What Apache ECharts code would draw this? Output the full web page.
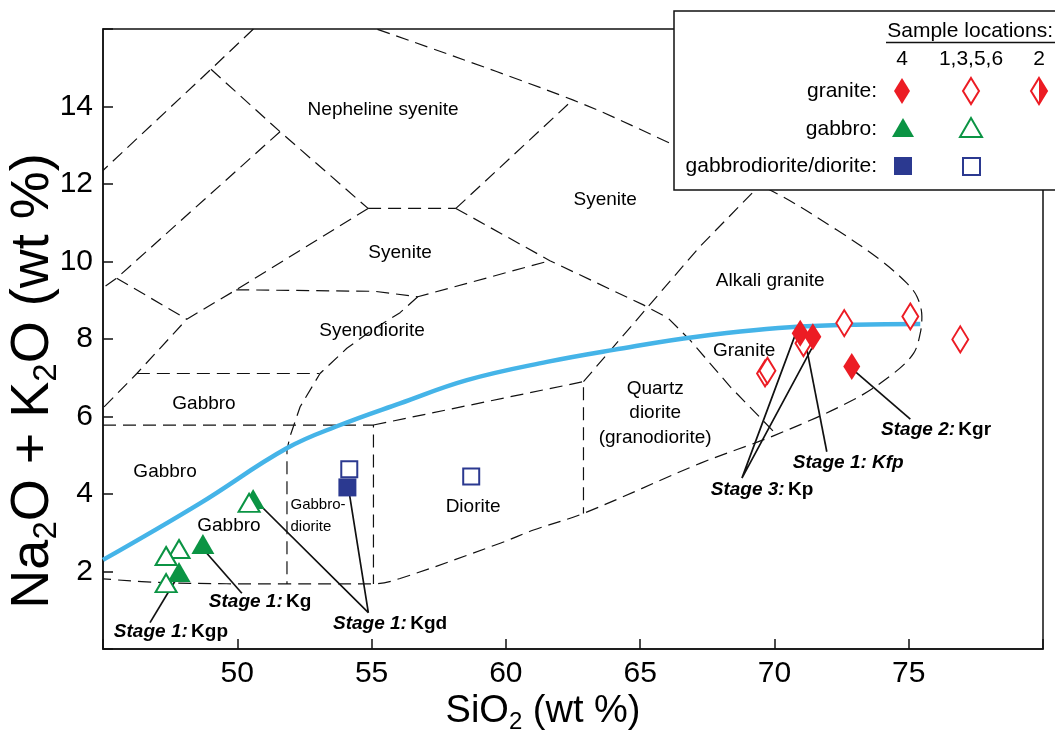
<!DOCTYPE html>
<html><head><meta charset="utf-8">
<script src="https://cdn.jsdelivr.net/npm/echarts/dist/echarts.min.js"></script>
<style>html,body{margin:0;padding:0;background:#fff}#c{width:1055px;height:731px}</style>
</head><body><div id="c"></div>
<script>
// ---------- axes ----------
const xMin = 45, xMax = 80, xStep = 5;
const yMin = 0, yMax = 16, yStep = 2;

// ---------- field boundaries (SiO2 wt%, Na2O+K2O wt%) ----------
const bOuter = [[55.22,15.99],[62.49,14.17],[66.12,13.05],[69.96,11.80],[72.33,10.81],[73.94,10.04],[74.93,9.44],[75.31,9.09],[75.49,8.58],[75.43,8.15],[75.18,7.63],[74.43,7.11],[72.94,6.43],[70.03,5.52],[67.23,4.79],[62.89,3.50],[61.03,3.07],[59.79,2.73],[56.06,1.82],[55.07,1.68],[51.84,1.68],[47.37,1.71],[45,1.81]];
const bLineA = [[50.60,16.0],[49.02,14.96],[45,12.35]];
const bV1V2 = [[49.02,14.96],[51.59,13.35],[54.87,11.37]];
const bLineB = [[51.59,13.35],[45.51,9.57],[45,9.32]];
const bV3V4 = [[45.51,9.57],[48.12,8.51]];
const bV2Left = [[54.87,11.37],[49.96,9.27],[48.12,8.51],[46.26,7.11],[45,6.22]];
const bV2V6 = [[54.87,11.37],[58.14,11.37]];
const bV6V7 = [[58.14,11.37],[62.49,14.17]];
const bV6Down = [[58.14,11.37],[61.64,10.02],[65.12,8.88],[66.04,8.54],[66.86,7.97],[68.35,6.77],[70.03,5.57]];
const bV5V8 = [[49.96,9.27],[55.13,9.23],[56.72,9.09],[61.64,10.02]];
const bSyenodiorite = [[56.72,9.09],[56.06,8.68],[55.02,8.23],[54.08,7.76],[53.08,7.11],[52.34,6.25],[51.96,5.48],[51.85,5.14],[51.85,1.68]];
const bGabbroTop = [[46.26,7.11],[53.05,7.11]];
const bGabbroMid = [[45,5.78],[55.07,5.78],[55.07,1.68]];
const bDiorite = [[55.07,5.78],[62.89,6.90],[62.89,3.50]];
const bQuartz = [[62.89,6.90],[67.23,10.39],[69.22,11.80],[69.45,11.97]];

// ---------- alkaline / subalkaline divide ----------
const divideCurve = [[45,2.30],[48.61,3.76],[51.84,5.18],[53.83,5.78],[56.06,6.34],[58.55,6.94],[61.53,7.41],[64.01,7.72],[67.11,8.06],[70.97,8.32],[75.43,8.39]];

// ---------- samples ----------
const graniteLoc4 = [[70.96,8.15],[71.43,8.06],[72.88,7.29]];
const graniteOther = [[71.08,7.89],[72.60,8.41],[75.06,8.58],[69.65,7.11],[69.74,7.18],[76.92,7.99]];
const gabbroLoc4 = [[50.59,3.87],[48.72,2.71],[47.83,1.99]];
const gabbroOther = [[50.44,3.77],[47.83,2.58],[47.35,2.40],[47.35,1.70]];
const dioriteLoc4 = [[54.10,4.17]];
const dioriteOther = [[54.17,4.64],[58.71,4.45]];

// ---------- field names ----------
const fieldLabels = [
  ['Nepheline syenite',55.43,13.91],
  ['Syenite',63.70,11.59],
  ['Syenite',56.06,10.22],
  ['Syenodiorite',55.02,8.21],
  ['Alkali granite',69.84,9.50],
  ['Granite',68.87,7.69],
  ['Gabbro',48.76,6.32],
  ['Gabbro',47.31,4.57],
  ['Gabbro',49.69,3.17],
  ['Diorite',58.78,3.66],
  ['Quartz\ndiorite\n(granodiorite)',65.56,6.09]
];
const smallFieldLabels = [['Gabbro-\ndiorite',51.98,3.43]];

// ---------- unit annotations ----------
const stageLabels = [
  ['{i|Stage 1:} {b|Kgp}',47.53,0.44],
  ['{i|Stage 1:} {b|Kg}',50.85,1.22],
  ['{i|Stage 1:} {b|Kgd}',55.69,0.66],
  ['{i|Stage 2:} {b|Kgr}',76.02,5.65],
  ['{i|Stage 1: Kfp}',72.75,4.81],
  ['{i|Stage 3:} {b|Kp}',69.54,4.10]
];
const leaders = [
  [[46.75,0.68],[47.74,1.82]],
  [[50.17,1.44],[48.84,2.49]],
  [[50.72,3.80],[54.88,0.94],[54.17,4.02]],
  [[75.06,5.93],[73.01,7.16]],
  [[71.95,5.09],[71.20,7.76]],
  [[70.77,8.10],[68.79,4.41],[71.39,7.76]]
];

const FONT = '"Liberation Sans", Arial, Helvetica, sans-serif';
const RED = '#ec1c24', GREEN = '#0b9444', NAVY = '#2b3990', BLUE = '#45b4e8', INK = '#111';

const dashed = {color: INK, width: 1.2, type: [13, 7]};
function bLine(pts, smooth) {
  return {type:'line', data: pts, symbol:'none', smooth: smooth || false, lineStyle: dashed, silent:true, z:2};
}
const boundaries = [bLineA, bV1V2, bLineB, bV3V4, bV2Left, bV2V6, bV6V7, bV6Down, bV5V8, bSyenodiorite, bGabbroTop, bGabbroMid, bDiorite, bQuartz];

const series = [];
series.push(bLine(bOuter, 0.35));
boundaries.forEach(b => series.push(bLine(b, false)));
series.push({type:'line', data: divideCurve, symbol:'none', smooth:0.4, lineStyle:{color:BLUE, width:4.5}, silent:true, z:3});
leaders.forEach(l => series.push({type:'line', data:l, symbol:'none', lineStyle:{color:INK, width:1.7}, silent:true, z:4}));

function marker(data, symbol, size, style, z) {
  return {type:'scatter', data:data, symbol:symbol, symbolSize:size, itemStyle:Object.assign({opacity:1}, style), silent:true, z:z};
}
series.push(marker(graniteOther, 'diamond', [16,26], {color:'#fff', borderColor:RED, borderWidth:2}, 5));
series.push(marker(graniteLoc4, 'diamond', [17,27], {color:RED}, 6));
series.push(marker(gabbroLoc4, 'triangle', [23,20], {color:GREEN}, 5));
series.push(marker(gabbroOther, 'triangle', [21,18], {color:'#fff', borderColor:GREEN, borderWidth:2}, 6));
series.push(marker(dioriteOther, 'rect', [16,16], {color:'#fff', borderColor:NAVY, borderWidth:2}, 5));
series.push(marker(dioriteLoc4, 'rect', [18,18], {color:NAVY}, 6));

function labelSeries(list, label) {
  return {type:'scatter', symbolSize:0, silent:true, z:8, itemStyle:{opacity:1},
    data: list.map(f => ({value:[f[1], f[2]], name:f[0]})),
    label:Object.assign({show:true, formatter:p => p.name, color:'#000', opacity:1}, label)};
}
series.push(labelSeries(fieldLabels, {position:'inside', fontSize:19, fontFamily:FONT, lineHeight:24.5, align:'center'}));
series.push(labelSeries(smallFieldLabels, {position:'right', distance:0, fontSize:15, fontFamily:FONT, lineHeight:22, align:'left'}));
series.push(labelSeries(stageLabels, {position:'inside',
  rich:{
    i:{fontSize:19, fontFamily:FONT, fontWeight:'bold', fontStyle:'italic', color:'#000'},
    b:{fontSize:19, fontFamily:FONT, fontWeight:'bold', color:'#000'}
  }}));

// ---------- legend (drawn as a boxed table) ----------
const legendRows = ['granite:', 'gabbro:', 'gabbrodiorite/diorite:'];
const legendCols = ['4', '1,3,5,6', '2'];
const LF = '21px ' + FONT;
const rowY = [91, 129, 166];
const colX = [902, 971, 1039];
const g = [];
g.push({type:'rect', shape:{x:674, y:11, width:420, height:179}, style:{fill:'#fff', stroke:INK, lineWidth:1.5}, z:100});
g.push({type:'text', x:1053, y:31, style:{text:'Sample locations:', font:LF, fill:'#000', align:'right', verticalAlign:'middle'}, z:101});
g.push({type:'line', shape:{x1:886, y1:42.5, x2:1055, y2:42.5}, style:{stroke:INK, lineWidth:1.5}, z:101});
legendCols.forEach((c, i) => g.push({type:'text', x:colX[i], y:59, style:{text:c, font:LF, fill:'#000', align:'center', verticalAlign:'middle'}, z:101}));
legendRows.forEach((r, i) => g.push({type:'text', x:877, y:rowY[i], style:{text:r, font:LF, fill:'#000', align:'right', verticalAlign:'middle'}, z:101}));
function dia(cx, cy) { return [[cx, cy-13], [cx+8, cy], [cx, cy+13], [cx-8, cy]]; }
function tri(cx, cy) { return [[cx, cy-10], [cx+11, cy+9], [cx-11, cy+9]]; }
g.push({type:'polygon', shape:{points:dia(colX[0], rowY[0])}, style:{fill:RED}, z:101});
g.push({type:'polygon', shape:{points:dia(colX[1], rowY[0])}, style:{fill:'#fff', stroke:RED, lineWidth:2}, z:101});
g.push({type:'polygon', shape:{points:dia(colX[2], rowY[0])}, style:{fill:'#fff', stroke:RED, lineWidth:2}, z:101});
g.push({type:'polygon', shape:{points:[[colX[2], rowY[0]-13], [colX[2]+8, rowY[0]], [colX[2], rowY[0]+13]]}, style:{fill:RED}, z:102});
g.push({type:'polygon', shape:{points:tri(colX[0]+1, rowY[1]-1)}, style:{fill:GREEN}, z:101});
g.push({type:'polygon', shape:{points:tri(colX[1], rowY[1]-1)}, style:{fill:'#fff', stroke:GREEN, lineWidth:2}, z:101});
g.push({type:'rect', shape:{x:colX[0]-8, y:rowY[2]-9, width:18, height:18}, style:{fill:NAVY}, z:101});
g.push({type:'rect', shape:{x:colX[1]-8, y:rowY[2]-8, width:17, height:17}, style:{fill:'#fff', stroke:NAVY, lineWidth:2}, z:101});

// axis titles
g.push({type:'text', x:543, y:712, z:90, style:{text:'{a|SiO}{s|2}{a| (wt %)}', align:'center', verticalAlign:'middle',
  rich:{a:{font:'38px ' + FONT, fill:'#000', lineHeight:44}, s:{font:'24px ' + FONT, fill:'#000', lineHeight:20, verticalAlign:'bottom'}}}});
g.push({type:'text', x:33, y:381, rotation:Math.PI/2, z:90, style:{text:'{a|Na}{s|2}{a|O + K}{s|2}{a|O (wt %)}', align:'center', verticalAlign:'middle',
  rich:{a:{font:'54px ' + FONT, fill:'#000', lineHeight:60}, s:{font:'33px ' + FONT, fill:'#000', lineHeight:26, verticalAlign:'bottom'}}}});

const chart = echarts.init(document.getElementById('c'));
chart.setOption({
  animation:false,
  backgroundColor:'#fff',
  grid:{left:103, top:29, right:12, bottom:82, show:true, borderColor:INK, borderWidth:1.5, backgroundColor:'transparent'},
  xAxis:{type:'value', min:xMin, max:xMax, interval:xStep,
    axisLine:{show:true, lineStyle:{color:INK, width:1.5}},
    axisTick:{show:true, inside:true, length:10, lineStyle:{color:INK, width:1.5}},
    splitLine:{show:false},
    axisLabel:{fontSize:30, fontFamily:FONT, color:'#000', margin:10, formatter:v => (v === xMin || v === xMax) ? '' : String(v)}},
  yAxis:{type:'value', min:yMin, max:yMax, interval:yStep,
    axisLine:{show:true, lineStyle:{color:INK, width:1.5}},
    axisTick:{show:true, inside:true, length:10, lineStyle:{color:INK, width:1.5}},
    splitLine:{show:false},
    axisLabel:{fontSize:30, fontFamily:FONT, color:'#000', margin:10, formatter:v => (v === yMin || v === yMax) ? '' : String(v)}},
  series: series,
  graphic: g
});
</script>
</body></html>
